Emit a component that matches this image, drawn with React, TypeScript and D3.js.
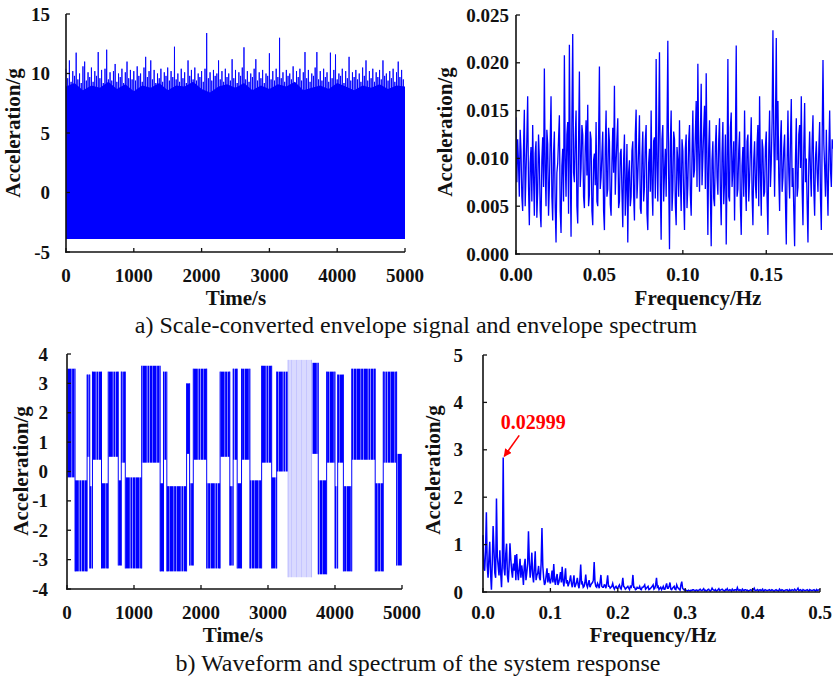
import React from 'react';
import * as d3 from 'd3';

const W = 833;
const H = 677;
const BLUE = '#0000ff';
const SERIF = '"Liberation Serif", "Times New Roman", Times, serif';

// ---- a) envelope signal (time domain) ----
const envTimeMax = 5000;
const envStep = 25; // s between successive crest samples
const envPeaks = [
  10.4, 9.6, 11.1, 9.3, 10.2, 9.8, 11.75, 9.5, 10.0, 9.2,
  10.6, 11.0, 9.4, 10.1, 9.7, 10.5, 9.3, 10.2, 9.8, 11.8,
  9.6, 10.3, 9.2, 10.4, 12.0, 9.5, 10.1, 9.4, 10.2, 10.8,
  9.3, 10.0, 9.7, 10.4, 9.2, 10.1, 11.0, 9.6, 10.3, 9.5,
  10.2, 9.4, 10.6, 9.8, 10.0, 9.3, 10.5, 11.4, 9.7, 10.2,
  11.1, 9.5, 10.3, 9.2, 10.0, 9.6, 10.4, 9.3, 10.1, 9.8,
  10.5, 9.4, 10.2, 9.7, 12.25, 9.5, 10.0, 9.3, 10.4, 9.6,
  10.1, 9.2, 11.1, 9.8, 10.3, 9.5, 10.5, 9.4, 10.0, 9.7,
  10.2, 9.3, 10.4, 13.4, 9.6, 10.1, 9.4, 10.3, 9.8, 10.0,
  11.1, 9.5, 10.2, 9.3, 10.4, 9.7, 10.0, 9.4, 11.2, 9.6,
  10.3, 9.2, 10.1, 9.8, 10.5, 12.2, 9.5, 10.2, 9.3, 10.0,
  9.7, 10.4, 11.2, 9.4, 10.1, 9.6, 10.3, 9.2, 10.0, 9.8,
  11.7, 9.5, 10.2, 9.4, 10.4, 9.7, 13.0, 9.6, 10.1, 9.3,
  10.3, 9.8, 10.0, 9.5, 10.6, 9.2, 10.2, 9.7, 10.4, 9.4,
  10.1, 11.8, 9.6, 10.3, 9.3, 10.0, 9.8, 10.5, 11.8, 9.5,
  10.2, 9.4, 10.4, 9.7, 10.1, 9.3, 11.75, 9.6, 10.3, 11.6,
  9.5, 10.0, 9.8, 10.4, 9.2, 10.2, 9.6, 11.4, 9.4, 10.1,
  9.7, 10.3, 9.5, 10.0, 9.3, 10.5, 9.8, 11.1, 9.4, 10.2,
  9.6, 10.4, 9.3, 10.1, 9.7, 10.3, 9.5, 11.1, 9.8, 10.0,
  9.4, 10.2, 9.6, 10.4, 9.3, 10.1, 11.0, 9.7, 10.3, 9.5,
];
// upper edge of the dense body of the envelope, every 125 s
const envBodyStep = 125;
const envBody = [
  8.9, 9.2, 8.6, 9.0, 8.8, 9.3, 8.7, 9.1, 8.5, 9.0,
  8.8, 9.2, 8.6, 9.0, 8.9, 9.3, 8.7, 8.4, 8.9, 9.1,
  8.8, 9.2, 8.6, 9.0, 8.7, 9.1, 8.9, 9.3, 8.6, 8.8,
  9.0, 8.7, 9.2, 8.9, 8.6, 9.0, 8.8, 9.1, 8.7, 9.0,
  8.9,
];
const envFloor = -3.9;

// ---- a) envelope spectrum: samples at k·0.001 Hz and at (k+0.5)·0.001 Hz ----
const envSpecStep = 0.001;
const envSpec = [
  0.0143, 0.0120, 0.0060, 0.0108, 0.0045, 0.0151, 0.0085, 0.0165, 0.0030, 0.0112,
  0.0135, 0.0040, 0.0118, 0.0065, 0.0100, 0.0028, 0.0122, 0.0194, 0.0050, 0.0115,
  0.0070, 0.0165, 0.0035, 0.0128, 0.0012, 0.0095, 0.0145, 0.0022, 0.0110, 0.0208,
  0.0060, 0.0138, 0.0219, 0.0018, 0.0230, 0.0075, 0.0150, 0.0032, 0.0191, 0.0090,
  0.0125, 0.0048, 0.0140, 0.0156, 0.0062, 0.0120, 0.0030, 0.0105, 0.0138, 0.0050,
  0.0196, 0.0080, 0.0128, 0.0025, 0.0150, 0.0068, 0.0118, 0.0040, 0.0132, 0.0176,
  0.0095, 0.0142, 0.0055, 0.0110, 0.0028, 0.0125, 0.0070, 0.0012, 0.0098, 0.0060,
  0.0118, 0.0035, 0.0151, 0.0080, 0.0145, 0.0042, 0.0128, 0.0070, 0.0135, 0.0025,
  0.0110, 0.0150, 0.0040, 0.0122, 0.0204, 0.0055, 0.0211, 0.0015, 0.0135, 0.0085,
  0.0060, 0.0223, 0.0005, 0.0150, 0.0068, 0.0120, 0.0030, 0.0098, 0.0140, 0.0045,
  0.0108, 0.0025, 0.0125, 0.0072, 0.0135, 0.0040, 0.0150, 0.0088, 0.0160, 0.0199,
  0.0065, 0.0178, 0.0100, 0.0155, 0.0189, 0.0020, 0.0140, 0.0008, 0.0118, 0.0050,
  0.0135, 0.0062, 0.0142, 0.0030, 0.0138, 0.0075, 0.0010, 0.0204, 0.0055, 0.0148,
  0.0090, 0.0035, 0.0218, 0.0068, 0.0128, 0.0020, 0.0112, 0.0150, 0.0045, 0.0125,
  0.0078, 0.0143, 0.0030, 0.0118, 0.0058, 0.0135, 0.0165, 0.0040, 0.0110, 0.0065,
  0.0128, 0.0020, 0.0150, 0.0095, 0.0234, 0.0060, 0.0226, 0.0160, 0.0045, 0.0140,
  0.0080, 0.0125, 0.0010, 0.0150, 0.0058, 0.0162, 0.0090, 0.0008, 0.0142, 0.0070,
  0.0135, 0.0165, 0.0030, 0.0158, 0.0100, 0.0012, 0.0128, 0.0060, 0.0145, 0.0040,
  0.0118, 0.0065, 0.0138, 0.0025, 0.0203, 0.0090, 0.0130, 0.0040, 0.0150, 0.0070,
  0.0110,
];
const envSpecHalf = [
  0.0075, 0.0095, 0.0130, 0.0060, 0.0110, 0.0050, 0.0120, 0.0070, 0.0095, 0.0055,
  0.0082, 0.0105, 0.0038, 0.0125, 0.0045, 0.0098, 0.0070, 0.0088, 0.0130, 0.0040,
  0.0118, 0.0060, 0.0105, 0.0048, 0.0085, 0.0120, 0.0045, 0.0092, 0.0055, 0.0100,
  0.0125, 0.0042, 0.0095, 0.0140, 0.0085, 0.0120, 0.0050, 0.0118, 0.0070, 0.0135,
  0.0060, 0.0112, 0.0082, 0.0050, 0.0128, 0.0045, 0.0098, 0.0072, 0.0055, 0.0120,
  0.0068, 0.0105, 0.0045, 0.0110, 0.0060, 0.0132, 0.0052, 0.0095, 0.0085, 0.0062,
  0.0120, 0.0048, 0.0105, 0.0065, 0.0098, 0.0040, 0.0115, 0.0085, 0.0050, 0.0108,
  0.0062, 0.0125, 0.0058, 0.0110, 0.0048, 0.0102, 0.0055, 0.0118, 0.0042, 0.0095,
  0.0065, 0.0072, 0.0118, 0.0058, 0.0092, 0.0130, 0.0070, 0.0120, 0.0055, 0.0110,
  0.0125, 0.0080, 0.0115, 0.0045, 0.0128, 0.0052, 0.0112, 0.0060, 0.0078, 0.0120,
  0.0058, 0.0110, 0.0048, 0.0118, 0.0062, 0.0105, 0.0080, 0.0125, 0.0070, 0.0110,
  0.0120, 0.0072, 0.0130, 0.0068, 0.0095, 0.0110, 0.0062, 0.0098, 0.0058, 0.0112,
  0.0080, 0.0118, 0.0065, 0.0105, 0.0052, 0.0125, 0.0090, 0.0060, 0.0132, 0.0070,
  0.0118, 0.0115, 0.0060, 0.0108, 0.0050, 0.0092, 0.0060, 0.0075, 0.0118, 0.0055,
  0.0110, 0.0062, 0.0098, 0.0072, 0.0115, 0.0050, 0.0085, 0.0120, 0.0060, 0.0112,
  0.0058, 0.0108, 0.0070, 0.0140, 0.0125, 0.0135, 0.0098, 0.0080, 0.0118, 0.0065,
  0.0110, 0.0055, 0.0095, 0.0085, 0.0120, 0.0070, 0.0045, 0.0098, 0.0060, 0.0125,
  0.0090, 0.0068, 0.0112, 0.0075, 0.0052, 0.0095, 0.0085, 0.0118, 0.0068, 0.0100,
  0.0085, 0.0110, 0.0058, 0.0120, 0.0115, 0.0060, 0.0075, 0.0105, 0.0088, 0.0120,
];

// ---- b) system response waveform: dwell intervals in each potential well ----
const dwellStart = [
  0, 120, 300, 340, 380, 515, 615, 765, 810, 870,
  1115, 1390, 1440, 1490, 1785, 1830, 1885, 2085, 2285, 2430,
  2480, 2540, 2605, 2730, 2905, 3055, 3130, 3300, 3650, 3750,
  3875, 4000, 4040, 4125, 4250, 4600, 4720, 4920,
];
const dwellLow = [
  -0.2, -3.4, 0.5, -3.3, 0.4, -3.3, 0.5, -3.2, 0.3, -3.3,
  0.3, -3.4, 0.4, -3.4, 0.6, -3.2, 0.4, -3.3, 0.5, -3.2,
  0.4, -3.3, 0.4, -3.3, 0.3, -3.3, 0.0, -3.6, 0.6, -3.5,
  0.3, -3.3, 0.3, -3.4, 0.4, -3.4, 0.3, -3.2,
];
const dwellHigh = [
  3.5, -0.3, 3.3, -0.5, 3.4, -0.4, 3.4, -0.3, 3.4, -0.2,
  3.6, -0.4, 3.4, -0.5, 3.0, -0.4, 3.5, -0.4, 3.4, -0.5,
  3.5, -0.4, 3.5, -0.3, 3.6, -0.2, 3.4, 3.8, 3.7, -0.3,
  3.4, -0.5, 3.3, -0.5, 3.5, -0.4, 3.4, 0.6,
];
const dwellFaint = [27];

// ---- b) response spectrum: samples at k·df and at (k+0.5)·df ----
const peakFreq = 0.02999;
const respSpecStep = peakFreq / 12;
const respSpec = [
  1.20, 0.45, 1.68, 0.30, 1.06, 0.05, 1.39, 0.40, 1.97, 0.55,
  0.88, 0.10, 2.84, 0.35, 1.02, 0.20, 1.03, 0.45, 0.60, 0.78,
  0.80, 0.25, 0.70, 0.56, 0.15, 0.70, 0.40, 1.28, 0.30, 0.83,
  0.20, 0.86, 0.35, 0.55, 0.25, 1.35, 0.30, 0.20, 0.50, 0.40,
  0.18, 0.45, 0.59, 0.15, 0.38, 0.20, 0.42, 0.53, 0.12, 0.50,
  0.25, 0.18, 0.35, 0.10, 0.35, 0.15, 0.30, 0.08, 0.58, 0.20,
  0.12, 0.37, 0.10, 0.25, 0.15, 0.20, 0.63, 0.12, 0.18, 0.08,
  0.36, 0.10, 0.15, 0.08, 0.35, 0.12, 0.10, 0.18, 0.06, 0.12,
  0.08, 0.15, 0.06, 0.30, 0.10, 0.08, 0.12, 0.05, 0.10, 0.36,
  0.10, 0.06, 0.08, 0.12, 0.05, 0.10, 0.15, 0.08, 0.12, 0.06,
  0.10, 0.15, 0.08, 0.30, 0.12, 0.08, 0.05, 0.12, 0.06, 0.18,
  0.08, 0.20, 0.05, 0.10, 0.06, 0.15, 0.08, 0.04, 0.22, 0.06,
  0.05, 0.03, 0.04, 0.02, 0.03, 0.05, 0.02, 0.04, 0.03, 0.06,
  0.03, 0.07, 0.04, 0.03, 0.06, 0.02, 0.08, 0.04, 0.05, 0.03,
  0.07, 0.04, 0.06, 0.03, 0.05, 0.07, 0.03, 0.04, 0.06, 0.03,
  0.05, 0.09, 0.03, 0.04, 0.06, 0.03, 0.05, 0.04, 0.03, 0.05,
  0.04, 0.08, 0.03, 0.05, 0.04, 0.03, 0.06, 0.03, 0.04, 0.03,
  0.05, 0.03, 0.04, 0.02, 0.05, 0.03, 0.06, 0.03, 0.04, 0.03,
  0.04, 0.03, 0.05, 0.03, 0.04, 0.06, 0.03, 0.08, 0.04, 0.03,
  0.05, 0.03, 0.04, 0.03, 0.05, 0.03, 0.04, 0.03, 0.05, 0.04, 0.06,
];
const respSpecHalf = [
  0.50, 0.85, 0.55, 0.70, 0.40, 0.60, 0.90, 0.30, 0.75, 0.35,
  0.40, 0.65, 0.50, 0.80, 0.35, 0.55, 0.70, 0.30, 0.45, 0.25,
  0.45, 0.50, 0.30, 0.40, 0.55, 0.25, 0.60, 0.65, 0.50, 0.35,
  0.50, 0.25, 0.40, 0.30, 0.60, 0.55, 0.15, 0.35, 0.20, 0.25,
  0.30, 0.20, 0.25, 0.30, 0.15, 0.30, 0.20, 0.25, 0.30, 0.18,
  0.12, 0.25, 0.18, 0.22, 0.10, 0.20, 0.15, 0.25, 0.18, 0.10,
  0.20, 0.15, 0.18, 0.10, 0.18, 0.25, 0.20, 0.10, 0.14, 0.20,
  0.12, 0.10, 0.14, 0.20, 0.12, 0.08, 0.12, 0.10, 0.10, 0.08,
  0.12, 0.08, 0.15, 0.12, 0.06, 0.10, 0.08, 0.12, 0.15, 0.10,
  0.05, 0.10, 0.08, 0.06, 0.10, 0.12, 0.06, 0.10, 0.05, 0.08,
  0.12, 0.06, 0.15, 0.10, 0.05, 0.10, 0.08, 0.06, 0.12, 0.08,
  0.12, 0.06, 0.08, 0.12, 0.05, 0.10, 0.06, 0.15, 0.08, 0.04,
  0.04, 0.02, 0.03, 0.04, 0.05, 0.03, 0.04, 0.02, 0.05, 0.03,
  0.05, 0.03, 0.02, 0.05, 0.03, 0.04, 0.05, 0.03, 0.02, 0.05,
  0.03, 0.05, 0.04, 0.02, 0.04, 0.03, 0.05, 0.02, 0.04, 0.05,
  0.03, 0.04, 0.05, 0.02, 0.04, 0.05, 0.03, 0.02, 0.04, 0.03,
  0.05, 0.03, 0.04, 0.02, 0.05, 0.04, 0.02, 0.05, 0.03, 0.04,
  0.03, 0.05, 0.02, 0.04, 0.03, 0.02, 0.04, 0.05, 0.02, 0.04,
  0.05, 0.02, 0.03, 0.05, 0.03, 0.04, 0.05, 0.03, 0.05, 0.02,
  0.04, 0.03, 0.05, 0.02, 0.04, 0.03, 0.05, 0.02, 0.03, 0.04,
];

// ---- tick values and texts ----
const timeTicks = [0, 1000, 2000, 3000, 4000, 5000];
const envYTicks = [-5, 0, 5, 10, 15];
const envSpecXTicks = [0, 0.05, 0.1, 0.15];
const envSpecYTicks = [0, 0.005, 0.01, 0.015, 0.02, 0.025];
const respYTicks = [-4, -3, -2, -1, 0, 1, 2, 3, 4];
const respSpecXTicks = [0, 0.1, 0.2, 0.3, 0.4, 0.5];
const respSpecYTicks = [0, 1, 2, 3, 4, 5];
const yTitle = 'Acceleration/g';
const timeTitle = 'Time/s';
const freqTitle = 'Frequency/Hz';
const captionA = 'a) Scale-converted envelope signal and envelope spectrum';
const captionB = 'b) Waveform and spectrum of the system response';
const peakLabel = '0.02999';

// full-step and half-step samples woven into one ordered series
function weave(full: number[], half: number[]): number[] {
  const out: number[] = [];
  full.forEach((v, i) => {
    out.push(v);
    if (i < half.length) out.push(half[i]);
  });
  return out;
}

type Lin = d3.ScaleLinear<number, number>;

interface AxesProps {
  x: Lin;
  y: Lin;
  xTicks: number[];
  yTicks: number[];
  xFmt: (v: number) => string;
  yFmt: (v: number) => string;
  yLabelGap: number;
  xLabelBase: number;
  xTitle: string;
  xTitleX: number;
  xTitleY: number;
  yTitleX: number;
  yTitleY: number;
}

function Axes(p: AxesProps) {
  const [x0, x1] = p.x.range();
  const [y0, y1] = p.y.range();
  const ax = x0;
  const ay = y0;
  return (
    <g fontFamily={SERIF} fontWeight="bold" fill="#111">
      <line x1={ax} x2={ax} y1={ay + 0.75} y2={y1} stroke="#111" strokeWidth={1.6} />
      <line x1={ax - 0.8} x2={x1} y1={ay} y2={ay} stroke="#111" strokeWidth={1.6} />
      {p.xTicks.map((t) => (
        <g key={'x' + t}>
          <line x1={p.x(t)} x2={p.x(t)} y1={ay} y2={ay - 4} stroke="#111" strokeWidth={1.3} />
          <text x={p.x(t)} y={p.xLabelBase} textAnchor="middle" fontSize={19}>
            {p.xFmt(t)}
          </text>
        </g>
      ))}
      {p.yTicks.map((t) => (
        <g key={'y' + t}>
          <line x1={ax} x2={ax + 4} y1={p.y(t)} y2={p.y(t)} stroke="#111" strokeWidth={1.3} />
          <text x={ax - p.yLabelGap} y={p.y(t) + 6.5} textAnchor="end" fontSize={19}>
            {p.yFmt(t)}
          </text>
        </g>
      ))}
      <text x={p.xTitleX} y={p.xTitleY} textAnchor="middle" fontSize={21}>
        {p.xTitle}
      </text>
      <text
        transform={`translate(${p.yTitleX},${p.yTitleY}) rotate(-90)`}
        textAnchor="middle"
        fontSize={21}
      >
        {yTitle}
      </text>
    </g>
  );
}

export default function App() {
  // panel a, left: envelope signal
  const xA1 = d3.scaleLinear().domain([0, envTimeMax]).range([66, 405]);
  const yA1 = d3.scaleLinear().domain([-5, 15]).range([252, 14]);
  const bodyArea = d3
    .area<number>()
    .x((_, i) => xA1(i * envBodyStep))
    .y0(() => yA1(envFloor))
    .y1((d) => yA1(d));
  const crestPts: [number, number][] = [];
  envPeaks.forEach((v, i) => {
    crestPts.push([xA1(i * envStep), yA1(v)]);
    crestPts.push([xA1(Math.min(i * envStep + envStep / 2, envTimeMax)), yA1(envFloor)]);
  });
  const crestLine = d3.line()(crestPts) ?? '';

  // panel a, right: envelope spectrum
  const xA2 = d3.scaleLinear().domain([0, 0.19]).range([516, 833]);
  const yA2 = d3.scaleLinear().domain([0, 0.025]).range([254, 15]);
  const specAData = weave(envSpec, envSpecHalf);
  const specA =
    d3
      .line<number>()
      .x((_, i) => xA2((i * envSpecStep) / 2))
      .y((d) => yA2(d))(specAData) ?? '';

  // panel b, left: response waveform
  const xB1 = d3.scaleLinear().domain([0, envTimeMax]).range([67, 402]);
  const yB1 = d3.scaleLinear().domain([-4, 4]).range([589, 354]);
  const dwellEnd = dwellStart.map((s, i) => (i + 1 < dwellStart.length ? dwellStart[i + 1] : envTimeMax));

  // panel b, right: response spectrum
  const xB2 = d3.scaleLinear().domain([0, 0.5]).range([483, 820]);
  const yB2 = d3.scaleLinear().domain([0, 5]).range([592, 355]);
  const specBData = weave(respSpec, respSpecHalf);
  const specB =
    d3
      .line<number>()
      .x((_, i) => xB2((i * respSpecStep) / 2))
      .y((d) => yB2(d))(specBData) ?? '';
  const peakIdx = d3.maxIndex(specBData);
  const px = xB2((peakIdx * respSpecStep) / 2);
  const py = yB2(specBData[peakIdx]);

  return (
    <svg
      width={W}
      height={H}
      viewBox={`0 0 ${W} ${H}`}
      style={{ position: 'absolute', left: 0, top: 0, background: '#fff' }}
    >
      <defs>
        <marker id="arrowRed" viewBox="0 0 10 10" refX={9} refY={5} markerWidth={5} markerHeight={5} orient="auto">
          <path d="M0,0 L10,5 L0,10 z" fill="#ff0000" />
        </marker>
        <clipPath id="clipA2">
          <rect x={516} y={0} width={W - 516} height={256} />
        </clipPath>
        {/* dense vertical strokes with uneven, narrow gaps: the texture of a sampled trace */}
        <pattern id="strokesBlue" width={17} height={8} patternUnits="userSpaceOnUse">
          <rect x={0} y={0} width={3.6} height={8} fill={BLUE} />
          <rect x={4.1} y={0} width={2.4} height={8} fill={BLUE} />
          <rect x={7} y={0} width={3.8} height={8} fill={BLUE} />
          <rect x={11.4} y={0} width={2} height={8} fill={BLUE} />
          <rect x={13.9} y={0} width={2.7} height={8} fill={BLUE} />
        </pattern>
        <pattern id="strokesFaint" width={5} height={8} patternUnits="userSpaceOnUse">
          <rect x={0} y={0} width={5} height={8} fill="#dadaff" />
          <rect x={1} y={0} width={1} height={8} fill="#c6c6ff" />
        </pattern>
      </defs>
      <rect width={W} height={H} fill="#fff" />

      {/* a) left */}
      <path d={bodyArea(envBody) ?? ''} fill={BLUE} />
      <path d={crestLine} fill="none" stroke={BLUE} strokeWidth={0.9} />
      <Axes
        x={xA1}
        y={yA1}
        xTicks={timeTicks}
        yTicks={envYTicks}
        xFmt={(v) => String(v)}
        yFmt={(v) => String(v)}
        yLabelGap={16}
        xLabelBase={282}
        xTitle={timeTitle}
        xTitleX={236}
        xTitleY={305}
        yTitleX={20}
        yTitleY={133}
      />

      {/* a) right */}
      <path d={specA} fill="none" stroke={BLUE} strokeWidth={1.3} clipPath="url(#clipA2)" />
      <Axes
        x={xA2}
        y={yA2}
        xTicks={envSpecXTicks}
        yTicks={envSpecYTicks}
        xFmt={d3.format('.2f')}
        yFmt={d3.format('.3f')}
        yLabelGap={7}
        xLabelBase={281}
        xTitle={freqTitle}
        xTitleX={698}
        xTitleY={305}
        yTitleX={452}
        yTitleY={132}
      />

      {/* b) left */}
      {dwellStart.map((s, i) => {
        const faint = dwellFaint.includes(i);
        return (
          <rect
            key={'dw' + i}
            x={xB1(s)}
            width={xB1(dwellEnd[i]) - xB1(s)}
            y={yB1(dwellHigh[i])}
            height={yB1(dwellLow[i]) - yB1(dwellHigh[i])}
            fill={faint ? 'url(#strokesFaint)' : 'url(#strokesBlue)'}
          />
        );
      })}
      {dwellStart.slice(1).map((s, i) => (
        <line
          key={'tr' + i}
          x1={xB1(s)}
          x2={xB1(s)}
          y1={yB1(Math.min(dwellLow[i], dwellLow[i + 1]))}
          y2={yB1(Math.max(dwellHigh[i], dwellHigh[i + 1]))}
          stroke={dwellFaint.includes(i) || dwellFaint.includes(i + 1) ? '#b8b8ff' : BLUE}
          strokeWidth={1}
        />
      ))}
      <Axes
        x={xB1}
        y={yB1}
        xTicks={timeTicks}
        yTicks={respYTicks}
        xFmt={(v) => String(v)}
        yFmt={(v) => String(v)}
        yLabelGap={19}
        xLabelBase={619}
        xTitle={timeTitle}
        xTitleX={233}
        xTitleY={642}
        yTitleX={28}
        yTitleY={471}
      />

      {/* b) right */}
      <path d={specB} fill="none" stroke={BLUE} strokeWidth={1.5} />
      <Axes
        x={xB2}
        y={yB2}
        xTicks={respSpecXTicks}
        yTicks={respSpecYTicks}
        xFmt={d3.format('.1f')}
        yFmt={(v) => String(v)}
        yLabelGap={20}
        xLabelBase={619}
        xTitle={freqTitle}
        xTitleX={653}
        xTitleY={642}
        yTitleX={440}
        yTitleY={470}
      />
      <line
        x1={px + 16}
        y1={py - 22}
        x2={px + 1}
        y2={py - 1}
        stroke="#ff0000"
        strokeWidth={1.6}
        markerEnd="url(#arrowRed)"
      />
      <text x={px + 30} y={py - 28} textAnchor="middle" fontFamily={SERIF} fontWeight="bold" fontSize={20} fill="#ff0000">
        {peakLabel}
      </text>

      {/* captions */}
      <text x={416} y={333} textAnchor="middle" fontFamily={SERIF} fontSize={24} fill="#111">
        {captionA}
      </text>
      <text x={418} y={671} textAnchor="middle" fontFamily={SERIF} fontSize={24} fill="#111">
        {captionB}
      </text>
    </svg>
  );
}
